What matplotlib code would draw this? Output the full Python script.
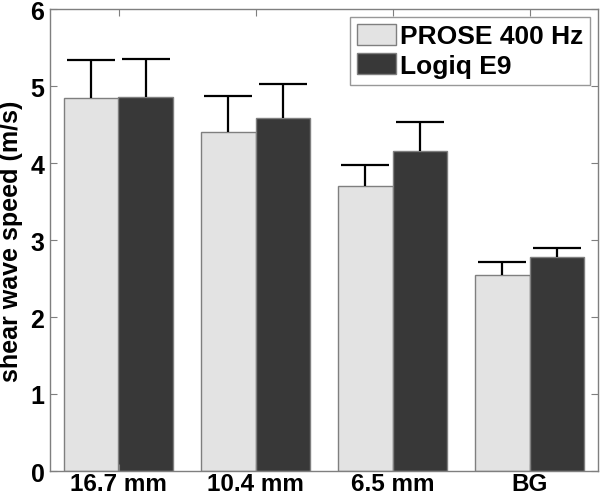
import matplotlib
matplotlib.use("Agg")
import matplotlib.pyplot as plt
import numpy as np

categories = ["16.7 mm", "10.4 mm", "6.5 mm", "BG"]
series_names = ["PROSE 400 Hz", "Logiq E9"]
prose_mean = [4.85, 4.40, 3.70, 2.55]
prose_err = [0.49, 0.47, 0.28, 0.16]
logiq_mean = [4.86, 4.59, 4.16, 2.78]
logiq_err = [0.49, 0.43, 0.37, 0.12]
yticks = [0, 1, 2, 3, 4, 5, 6]

plt.rcParams["font.family"] = ["Liberation Sans", "DejaVu Sans"]
plt.rcParams["font.weight"] = "bold"

fig = plt.figure(figsize=(6.0, 5.02), dpi=100)
ax = fig.add_axes([50 / 600, 1 - 472 / 502, 548 / 600, 462 / 502])

x = np.arange(1, len(categories) + 1)
w = 0.4
err_kw = dict(ecolor="black", elinewidth=1.6, capsize=17, capthick=1.6)

bars = []
bars.append(ax.bar(x - w / 2, prose_mean, w, color="#e3e3e3", edgecolor="#7f7f7f",
                   linewidth=1.0, label=series_names[0],
                   yerr=[np.zeros(4), prose_err], error_kw=err_kw))
bars.append(ax.bar(x + w / 2, logiq_mean, w, color="#383838", edgecolor="#7f7f7f",
                   linewidth=1.0, label=series_names[1],
                   yerr=[np.zeros(4), logiq_err], error_kw=err_kw))

# only the upper cap is drawn in the original
for b in bars:
    caps = b.errorbar.lines[1]
    caps[0].set_visible(False)

ax.set_xlim(0.5, 4.5)
ax.set_ylim(0, 6)
ax.set_xticks(x)
ax.set_xticklabels(categories, fontsize=17.5, fontweight="bold")
ax.set_yticks(yticks)
ax.set_yticklabels([str(t) for t in yticks], fontsize=18, fontweight="bold")
ax.set_ylabel("shear wave speed (m/s)", fontsize=18, fontweight="bold", labelpad=5)

ax.tick_params(direction="in", length=5, width=0.8, color="#7f7f7f",
               top=True, right=True, pad=4)
ax.tick_params(axis="x", pad=1)
for s in ax.spines.values():
    s.set_color("#7f7f7f")
    s.set_linewidth(1.0)

leg = ax.legend(loc="upper right", fontsize=19, frameon=True, fancybox=False,
                edgecolor="#7f7f7f", handlelength=1.5, handleheight=0.85,
                handletextpad=0.15, labelspacing=0.2, borderpad=0.25,
                borderaxespad=0.3)
leg.get_frame().set_linewidth(1.0)
for t in leg.get_texts():
    t.set_fontweight("bold")

fig.savefig("out.png", dpi=100)
